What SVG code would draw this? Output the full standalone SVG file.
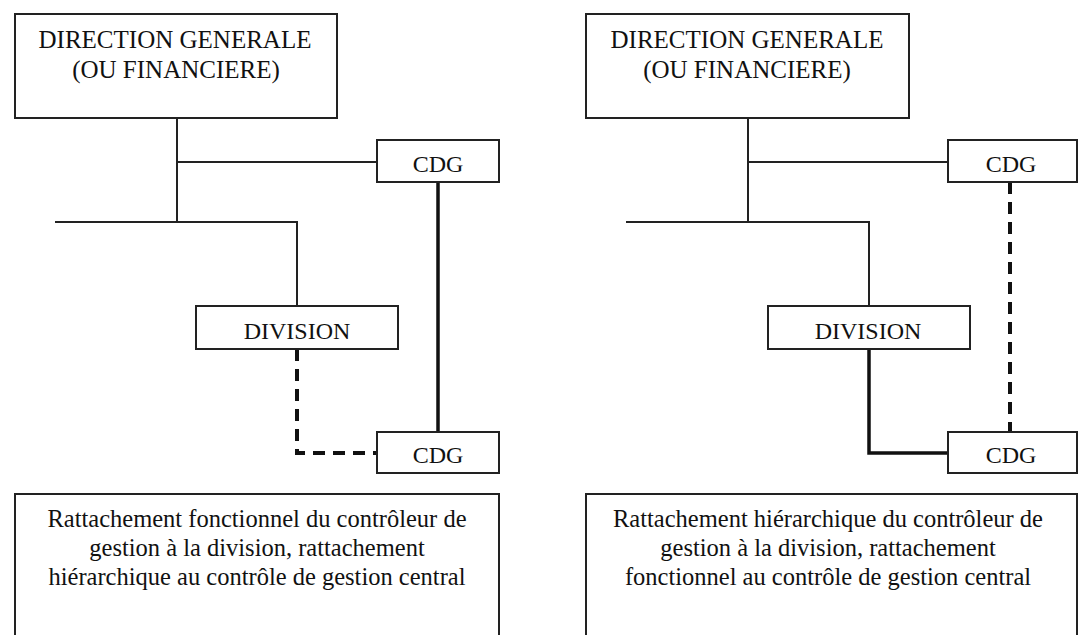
<svg xmlns="http://www.w3.org/2000/svg" width="1079" height="635" viewBox="0 0 1079 635">
<style>
.box{fill:#fff;stroke:#222;stroke-width:2}
.t{font-family:'Liberation Serif','DejaVu Serif',serif;font-size:24px;fill:#111;text-anchor:middle}
.big{font-size:25px}
.cap{font-size:24.5px}
.thin{fill:none;stroke:#222;stroke-width:2}
.thick{fill:none;stroke:#111;stroke-width:3.5}
.dash{fill:none;stroke:#111;stroke-width:4;stroke-dasharray:12 8}
</style>
<rect width="1079" height="635" fill="#fff"/>
<g id="connectors">
<polyline class="thin" points="177,118 177,222"/>
<polyline class="thin" points="177,162 377,162"/>
<polyline class="thin" points="55,222 297,222 297,306"/>
<polyline class="thick" points="438,182 438,432"/>
<polyline class="dash" points="297,349 297,453 377,453"/>
<polyline class="thin" points="748,118 748,222"/>
<polyline class="thin" points="748,162 948,162"/>
<polyline class="thin" points="626,222 869,222 869,306"/>
<polyline class="thick" points="869,349 869,453 948,453"/>
<polyline class="dash" points="1010,182 1010,432"/>
</g>
<g id="dg-left">
<rect class="box" x="15" y="14" width="322" height="104"/>
<text class="t big" x="175" y="48">DIRECTION GENERALE</text>
<text class="t big" x="176" y="78">(OU FINANCIERE)</text>
</g>
<g id="cdg-top-left">
<rect class="box" x="377" y="140" width="122" height="42"/>
<text class="t" x="438" y="172">CDG</text>
</g>
<g id="division-left">
<rect class="box" x="196" y="306" width="202" height="43"/>
<text class="t" x="297" y="339">DIVISION</text>
</g>
<g id="cdg-bottom-left">
<rect class="box" x="377" y="432" width="122" height="41"/>
<text class="t" x="438" y="463">CDG</text>
</g>
<g id="caption-left">
<rect class="box" x="15" y="494" width="484" height="160"/>
<text class="t cap" x="257" y="527">Rattachement fonctionnel du contrôleur de</text>
<text class="t cap" x="257" y="556">gestion à la division, rattachement</text>
<text class="t cap" x="257" y="585">hiérarchique au contrôle de gestion central</text>
</g>
<g id="dg-right">
<rect class="box" x="586" y="14" width="323" height="104"/>
<text class="t big" x="747" y="48">DIRECTION GENERALE</text>
<text class="t big" x="747" y="78">(OU FINANCIERE)</text>
</g>
<g id="cdg-top-right">
<rect class="box" x="948" y="140" width="129" height="42"/>
<text class="t" x="1011" y="172">CDG</text>
</g>
<g id="division-right">
<rect class="box" x="768" y="306" width="202" height="43"/>
<text class="t" x="868" y="339">DIVISION</text>
</g>
<g id="cdg-bottom-right">
<rect class="box" x="948" y="432" width="129" height="41"/>
<text class="t" x="1011" y="463">CDG</text>
</g>
<g id="caption-right">
<rect class="box" x="586" y="494" width="491" height="160"/>
<text class="t cap" x="828" y="527">Rattachement hiérarchique du contrôleur de</text>
<text class="t cap" x="828" y="556">gestion à la division, rattachement</text>
<text class="t cap" x="828" y="585">fonctionnel au contrôle de gestion central</text>
</g>
</svg>
